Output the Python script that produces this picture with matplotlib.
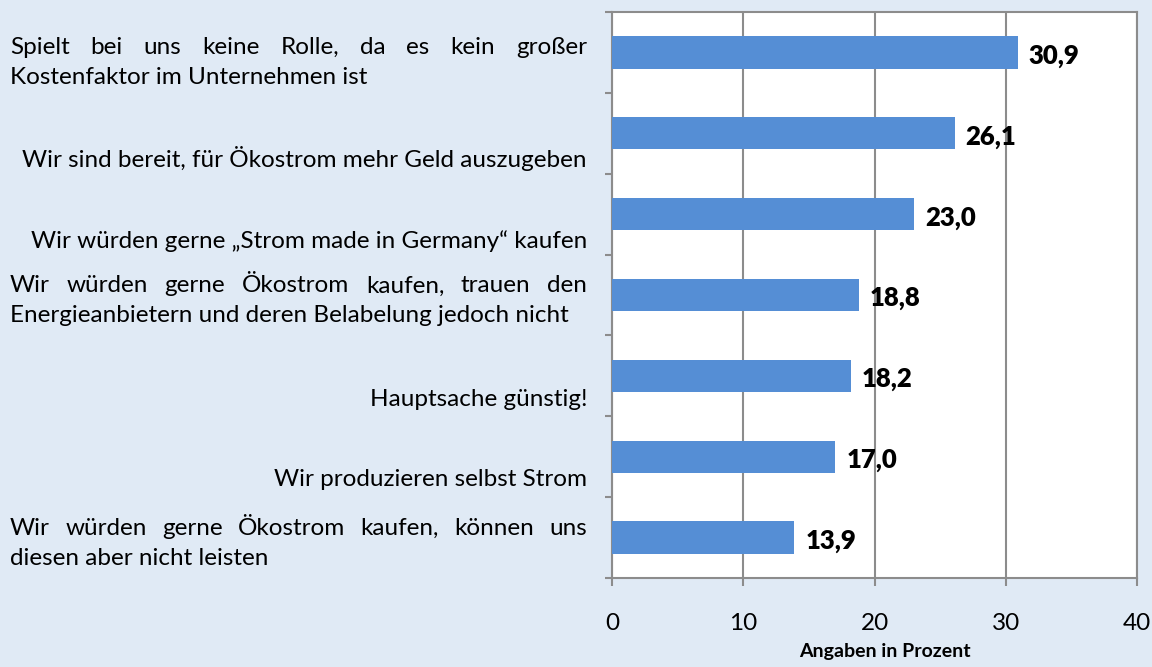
import matplotlib
matplotlib.use("Agg")
import matplotlib.pyplot as plt

# ---- data ----
categories = [
    "Spielt bei uns keine Rolle, da es kein großer|Kostenfaktor im Unternehmen ist",
    "Wir sind bereit, für Ökostrom mehr Geld auszugeben",
    "Wir würden gerne „Strom made in Germany“ kaufen",
    "Wir würden gerne Ökostrom kaufen, trauen den|Energieanbietern und deren Belabelung jedoch nicht",
    "Hauptsache günstig!",
    "Wir produzieren selbst Strom",
    "Wir würden gerne Ökostrom kaufen, können uns|diesen aber nicht leisten",
]
values = [30.9, 26.1, 23.0, 18.8, 18.2, 17.0, 13.9]
value_labels = ["30,9", "26,1", "23,0", "18,8", "18,2", "17,0", "13,9"]
x_ticks = [0, 10, 20, 30, 40]
x_label = "Angaben in Prozent"

# ---- layout ----
W, H, DPI = 1152, 667, 100
BG = "#E0EAF5"
BAR = "#558ED5"
GRID = "#8C8C8C"
FONT = "Lato"
FS = 17.5
label_dy_px = [10, 25, 27, 6, 24, 23, 6]   # vertical offset of label block vs. bar center (px, downward)
label_left_px = 10
label_right_px = 587

fig = plt.figure(figsize=(W / DPI, H / DPI), dpi=DPI, facecolor=BG)
ax = fig.add_axes([612 / W, 1 - 578 / H, (1137 - 612) / W, (578 - 12) / H])
ax.set_facecolor("white")

ypos = list(range(len(values)))
ax.barh(ypos, values, height=0.4, color=BAR, zorder=3)
ax.set_xlim(0, 40)
ax.set_ylim(len(values) - 0.5, -0.5)

ax.set_xticks(x_ticks)
ax.set_xticklabels([str(t) for t in x_ticks], fontsize=FS, family=FONT)
ax.xaxis.grid(True, color=GRID, linewidth=1.5, zorder=1)
ax.tick_params(axis="x", length=6, width=1.5, color=GRID, pad=19)
ax.set_yticks([i - 0.5 for i in range(len(values) + 1)])
ax.set_yticklabels([])
ax.tick_params(axis="y", length=5, width=1.5, color=GRID)
for s in ax.spines.values():
    s.set_color(GRID)
    s.set_linewidth(1.5)

ax.set_xlabel(x_label, fontsize=14, fontweight="bold", family=FONT, labelpad=10)
ax.xaxis.set_label_coords(0.519, -0.115)

for i, (v, lab) in enumerate(zip(values, value_labels)):
    ax.annotate(lab, (v, i), xytext=(8, -2.5), textcoords="offset points",
                va="center", ha="left", fontsize=18.5, fontweight="heavy", family=FONT)

# ---- category labels (justified like the original) ----
fig.canvas.draw()
renderer = fig.canvas.get_renderer()
line_h = 30  # px

def text_width(s):
    t = fig.text(0, 0, s, fontsize=FS, family=FONT)
    w = t.get_window_extent(renderer).width
    t.remove()
    return w

for i, cat in enumerate(categories):
    lines = cat.split("|")
    yc_disp = ax.transData.transform((0, i))[1] - label_dy_px[i]
    n = len(lines)
    for j, line in enumerate(lines):
        y_disp = yc_disp + (n - 1) / 2 * line_h - j * line_h
        y_fig = y_disp / H
        if n == 1:
            fig.text(label_right_px / W, y_fig, line, ha="right", va="center",
                     fontsize=FS, family=FONT)
        elif j < n - 1:
            words = line.split(" ")
            widths = [text_width(w) for w in words]
            gap = (label_right_px - label_left_px - sum(widths)) / (len(words) - 1)
            x = label_left_px
            for w, wd in zip(words, widths):
                fig.text(x / W, y_fig, w, ha="left", va="center", fontsize=FS, family=FONT)
                x += wd + gap
        else:
            fig.text(label_left_px / W, y_fig, line, ha="left", va="center",
                     fontsize=FS, family=FONT)

fig.savefig("out.png", dpi=DPI, facecolor=BG)
